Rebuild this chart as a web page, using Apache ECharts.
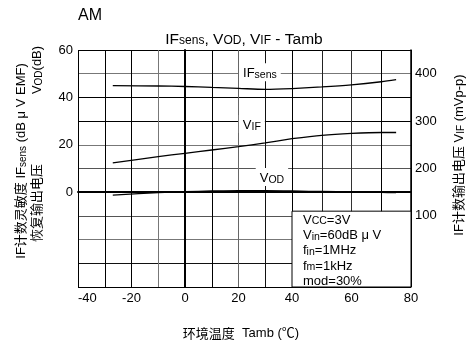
<!DOCTYPE html>
<html><head><meta charset="utf-8">
<script src="https://cdn.jsdelivr.net/npm/echarts@6/dist/echarts.min.js"></script>
<style>html,body{margin:0;padding:0;background:#fff}#c{width:466px;height:345px}</style>
</head><body><div id="c"></div>
<script>
// ---- data ----
const temps  = [-27, -10, 0, 10, 20, 30, 40, 50, 60, 70, 75];
const ifsens = [45.0, 44.8, 44.6, 44.2, 43.8, 43.4, 43.7, 44.4, 45.3, 46.6, 47.5];
const vod    = [-1.2, -0.2, 0.2, 0.5, 0.7, 0.7, 0.5, 0.3, 0.1, -0.1, -0.2];
const vif    = [212, 225, 232, 239, 246, 254, 263, 270, 274, 276, 276];
const xLabelTicks = [-40, -20, 0, 20, 40, 60, 80];
const leftLabelTicks = [0, 20, 40, 60];
const rightLabelTicks = [100, 200, 300, 400];
const conditionLines = ['V{s|CC}=3V', 'V{s|in}=60dB μ V', 'f{s|in}=1MHz', 'f{s|m}=1kHz', 'mod=30%'];

const X_SPLIT = 40;
const FONT = '"Liberation Sans", Arial, "Noto Sans CJK SC", sans-serif';
const CJK = '"Liberation Sans", "Noto Sans CJK SC", sans-serif';

function pts(ys, part) {
  return temps.map((t, i) => [t, ys[i]]).filter(p => part === 0 ? p[0] <= X_SPLIT : p[0] >= X_SPLIT);
}
const gridColsA = ['#000','#000','#000','#777','#000','#000','#666','#111','#000'];
const rowCols = ['#000','#111','#777','#555','#000','#555','#777','#000','#000','#777','#000'];

const chart = echarts.init(document.getElementById('c'), null, {renderer: 'canvas'});
const lineStyle = {color: '#000', width: 1.3};
function mkSeries(ys, yA, yB) {
  return [0, 1].map(g => ({
    type: 'line', xAxisIndex: g, yAxisIndex: g === 0 ? yA : yB,
    data: pts(ys, g), showSymbol: false, smooth: 0.3,
    lineStyle: lineStyle, silent: true, z: 5
  }));
}
const axisLabelBase = {color: '#000', fontSize: 13, fontFamily: FONT};

const option = {
  animation: false,
  backgroundColor: '#fff',
  grid: [
    {left: 78, top: 50, width: 214, height: 237, containLabel: false, outerBoundsMode: 'none'},
    {left: 292, top: 50, width: 119, height: 237, containLabel: false, outerBoundsMode: 'none'}
  ],
  xAxis: [
    {type: 'value', gridIndex: 0, min: -40, max: X_SPLIT, interval: 10,
     axisLine: {show: true, lineStyle: {color: '#000', width: 2}}, axisTick: {show: false},
     axisLabel: Object.assign({}, axisLabelBase, {margin: 5, alignMinLabel: 'left', showMinLabel: true, showMaxLabel: true,
       formatter: v => xLabelTicks.includes(v) ? String(v) : ''}),
     splitLine: {show: true, lineStyle: {color: gridColsA, width: 1}}},
    {type: 'value', gridIndex: 1, min: X_SPLIT, max: 80, interval: 10,
     axisLine: {show: true, lineStyle: {color: '#000', width: 2}}, axisTick: {show: false},
     axisLabel: Object.assign({}, axisLabelBase, {margin: 5, showMaxLabel: true,
       formatter: v => (v !== X_SPLIT && xLabelTicks.includes(v)) ? String(v) : ''}),
     splitLine: {show: true, lineStyle: {color: ['#000', '#222', '#333', '#000', '#000'], width: 1}}}
  ],
  yAxis: [
    {type: 'value', gridIndex: 0, min: -40, max: 60, interval: 10,
     axisLine: {show: true, lineStyle: {color: '#000', width: 2}}, axisTick: {show: false},
     axisLabel: Object.assign({}, axisLabelBase, {margin: 5, showMaxLabel: true,
       formatter: v => leftLabelTicks.includes(v) ? String(v) : ''}),
     splitLine: {show: true, lineStyle: {color: rowCols, width: 1}}},
    {type: 'value', gridIndex: 1, min: -40, max: 60, interval: 10,
     axisLine: {show: false}, axisTick: {show: false}, axisLabel: {show: false},
     splitLine: {show: true, lineStyle: {color: rowCols, width: 1}}},
    {type: 'value', gridIndex: 0, position: 'right', min: -50, max: 450, interval: 50, show: false},
    {type: 'value', gridIndex: 1, position: 'right', min: -50, max: 450, interval: 50,
     axisLine: {show: true, lineStyle: {color: '#000', width: 1.5}}, axisTick: {show: false},
     axisLabel: Object.assign({}, axisLabelBase, {margin: 4,
       formatter: v => rightLabelTicks.includes(v) ? String(v) : ''}),
     splitLine: {show: false}}
  ],
  series: [].concat(mkSeries(ifsens, 0, 1), mkSeries(vod, 0, 1), mkSeries(vif, 2, 3))
};
chart.setOption(option);

// ---- annotations, placed in data coordinates ----
const P = (g, xy) => chart.convertToPixel({gridIndex: g}, xy);
const rich = {
  n: {fontSize: 13, fontFamily: FONT, color: '#000', verticalAlign: 'bottom', lineHeight: 16},
  s: {fontSize: 10.5, fontFamily: FONT, color: '#000', verticalAlign: 'bottom', lineHeight: 15}
};
function txt(x, y, text, extra) {
  return Object.assign({
    type: 'text', x: x, y: y, z: 100,
    style: Object.assign({text: text, rich: rich, align: 'center', verticalAlign: 'middle',
      textAlign: 'center', textVerticalAlign: 'middle', fill: '#000', font: '13px ' + FONT}, (extra && extra.style) || {})
  }, extra && extra.el || {});
}
const seriesLabelPos = [
  {text: '{n|IF}{s|sens}', at: [28, 50.6]},
  {text: '{n|V}{s|IF}', at: [25, 28.8]},
  {text: '{n|V}{s|OD}', at: [32.5, 6.4]}
];
const graphics = [];
seriesLabelPos.forEach(l => {
  const p = P(0, l.at);
  graphics.push(txt(p[0], p[1], l.text, {style: {backgroundColor: '#fff', padding: [1, 4, 1, 4]}}));
});
// condition box
const bTL = P(1, [X_SPLIT, -8]);
const bBR = P(1, [80, -40]);
graphics.push({type: 'rect', z: 90, shape: {x: bTL[0], y: bTL[1], width: bBR[0] - bTL[0], height: bBR[1] - bTL[1]},
  style: {fill: '#fff', stroke: '#000', lineWidth: 1}});
graphics.push({type: 'text', z: 100, x: bTL[0] + 11, y: bTL[1],
  style: {text: conditionLines.map(s => s.replace(/^([^{]*)/, '{n|$1}').replace(/\}([^{]+)$/, '}{n|$1}')).join('\n'),
    rich: {n: {fontSize: 13, fontFamily: FONT, color: '#000', lineHeight: 15.4, verticalAlign: 'bottom'},
           s: {fontSize: 10.5, fontFamily: FONT, color: '#000', lineHeight: 15.4, verticalAlign: 'bottom'}},
    align: 'left', verticalAlign: 'top', textAlign: 'left', textVerticalAlign: 'top'}});
// titles
graphics.push(txt(90, 16, 'AM', {style: {font: '16px ' + FONT}}));
graphics.push(txt(244, 38, '{t|IF}{u|sens}{t|, V}{u|OD}{t|, V}{u|IF}{t| - Tamb}', {style: {rich: {
  t: {fontSize: 15.5, fontFamily: FONT, color: '#000', verticalAlign: 'bottom', lineHeight: 18},
  u: {fontSize: 12, fontFamily: FONT, color: '#000', verticalAlign: 'bottom', lineHeight: 17}}}}));
// axis names
const cjkRich = {
  c: {fontSize: 13, fontFamily: CJK, color: '#000', verticalAlign: 'bottom', lineHeight: 16},
  n: {fontSize: 13, fontFamily: FONT, color: '#000', verticalAlign: 'bottom', lineHeight: 16},
  s: {fontSize: 10, fontFamily: FONT, color: '#000', verticalAlign: 'bottom', lineHeight: 15}
};
graphics.push(txt(20, 161, '{c|IF计数灵敏度} {n|IF}{s|sens} {n|(dB μ V EMF)}', {el: {rotation: Math.PI / 2}, style: {rich: cjkRich}}));
graphics.push(txt(36, 203, '{c|恢复输出电压}', {el: {rotation: Math.PI / 2}, style: {rich: cjkRich}}));
graphics.push(txt(36, 70, '{n|V}{s|OD}{n|(dB)}', {el: {rotation: Math.PI / 2}, style: {rich: cjkRich}}));
graphics.push(txt(458, 155, '{c|IF计数输出电压} {n|V}{s|IF} {n|(mVp-p)}', {el: {rotation: Math.PI / 2}, style: {rich: cjkRich}}));
graphics.push(txt(241, 333, '{c|环境温度}  {n|Tamb (℃)}', {style: {rich: {
  c: {fontSize: 13, fontFamily: '"Noto Sans CJK SC", sans-serif', color: '#000'},
  n: {fontSize: 13, fontFamily: CJK, color: '#000'}}}}));
chart.setOption({graphic: graphics});
</script>
</body></html>
